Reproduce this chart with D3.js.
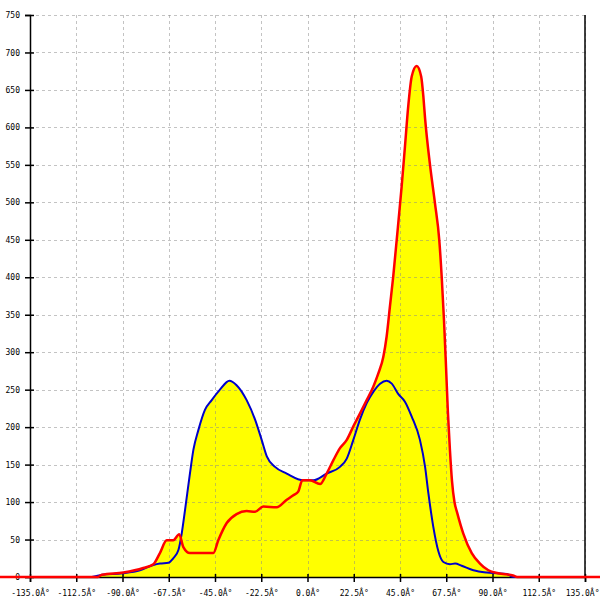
<!DOCTYPE html>
<html>
<head>
<meta charset="utf-8">
<script src="https://cdn.jsdelivr.net/npm/d3@7"></script>
<style>
html,body{margin:0;padding:0;background:#fff;}
svg{display:block;}
</style>
</head>
<body>
<svg id="chart" width="600" height="600"></svg>
<script>
const xTicks = [-135,-112.5,-90,-67.5,-45,-22.5,0,22.5,45,67.5,90,112.5,135];
const yTicks = [0,50,100,150,200,250,300,350,400,450,500,550,600,650,700,750];

const blueAngles = [-180,-105,-100,-90,-81.5,-75,-71.8,-67.7,-65.3,-62.8,-61.2,-59.6,-57.2,-55.5,-53.1,-49.9,-46.6,-42.6,-38,-34.5,-29.6,-25.5,-22.3,-19.8,-15.8,-10.1,-2,2.8,9.3,15.8,19.1,22.3,25.5,28.8,32,35.3,38.5,41,44.2,47.4,50.7,54.7,57.2,58.8,61.2,63.7,66.1,69.3,71.8,75,80.7,87.2,92,97,100,180];
const blueValues = [0,0,3,5,9,16,18,19,25,36,58,89,138,170,196,223,236,250,262,256,236,210,183,161,147,138,129,129,138,147,158,183,210,232,247,258,262,258,244,234,214,183,147,112,67,34,20,17,18,15,9,6,5,4,0,0];

const redAngles = [-180,-102,-100,-89.6,-79.9,-75,-71.8,-68.5,-65.3,-62.4,-60.4,-57.2,-52.3,-45.8,-43.4,-39.3,-34.5,-29.6,-25.5,-21.5,-15,-10.1,-6.9,-4.5,-2.5,1.2,6.1,9.3,12.6,15.8,19.1,22.3,25.5,28.8,32,34.5,36.9,38.5,40.1,41.7,43.4,45.8,47.4,49,50.7,53.1,55.3,56.4,57.2,59.6,62,64.1,65.3,66.4,67.4,68.3,69.3,70.3,71.5,72.8,75.8,79.9,83.9,88,92.8,100,102,180];
const redValues = [0,0,3,6,12,17,32,49,49,57,40,32,32,32,49,72,84,88,87,94,93,103,109,114,129,129,124,138,156,172,183,201,218,236,254,272,294,321,361,401,450,521,574,628,668,682,668,640,612,550,499,450,400,343,280,220,169,128,100,86,58,32,18,9,5,2,0,0];

const svg = d3.select("#chart");
const x = d3.scaleLinear().domain([-135,135]).range([30,585]);
const y = d3.scaleLinear().domain([0,750]).range([577,15]);

const blue = blueAngles.map((a,i)=>[a,blueValues[i]]);
const red = redAngles.map((a,i)=>[a,redValues[i]]);

const area = d3.area().x(d=>x(d[0])).y0(y(0)).y1(d=>y(d[1])).curve(d3.curveMonotoneX);
const line = d3.line().x(d=>x(d[0])).y(d=>y(d[1])).curve(d3.curveMonotoneX);

svg.append("path").datum(blue).attr("d",area).attr("fill","#ffff00");
svg.append("path").datum(red).attr("d",area).attr("fill","#ffff00");

// grid
const grid = svg.append("g").attr("stroke","#888").attr("stroke-opacity",0.5).attr("stroke-dasharray","3,3").attr("stroke-width",1);
grid.selectAll("line.h").data(yTicks).join("line").attr("class","h")
  .attr("x1",30).attr("x2",585).attr("y1",d=>Math.round(y(d))+0.5).attr("y2",d=>Math.round(y(d))+0.5);
grid.selectAll("line.v").data(xTicks).join("line").attr("class","v")
  .attr("y1",15).attr("y2",577).attr("x1",d=>Math.round(x(d))+0.5).attr("x2",d=>Math.round(x(d))+0.5);

// axes
const xAxis = d3.axisBottom(x).tickValues(xTicks).tickFormat(d=>d.toFixed(1)+"Â°").tickSizeOuter(0).tickSize(5).tickPadding(8);
const gx = svg.append("g").attr("transform","translate(0,577)").call(xAxis);
gx.selectAll(".tick line").attr("y1",-3).attr("stroke","#000").attr("stroke-width",1.5);
gx.select(".domain").attr("stroke","#000").attr("stroke-width",1.5);

const yAxis = d3.axisLeft(y).tickValues(yTicks).tickFormat(d3.format("d")).tickSizeOuter(0).tickSize(5).tickPadding(5);
const gy = svg.append("g").attr("transform","translate(30,0)").call(yAxis);
gy.selectAll(".tick line").attr("x1",4).attr("stroke","#000").attr("stroke-width",1.5);
gy.select(".domain").attr("stroke","#000").attr("stroke-width",1.5);

[gx,gy].forEach(g=>g.selectAll("text").attr("font-family","'DejaVu Sans Mono', monospace").attr("font-size",8).attr("fill","#000"));

// keep the last x label inside the picture
gx.selectAll(".tick").filter(d=>d===135).select("text").attr("text-anchor","end").attr("x",14);

svg.append("line").attr("x1",585).attr("x2",585).attr("y1",15).attr("y2",577).attr("stroke","#000").attr("stroke-width",1.5);

svg.append("path").datum(blue).attr("d",line).attr("fill","none").attr("stroke","#0000cc").attr("stroke-width",2);
svg.append("path").datum(red).attr("d",line).attr("fill","none").attr("stroke","#ff0000").attr("stroke-width",2.5);
</script>
</body>
</html>
